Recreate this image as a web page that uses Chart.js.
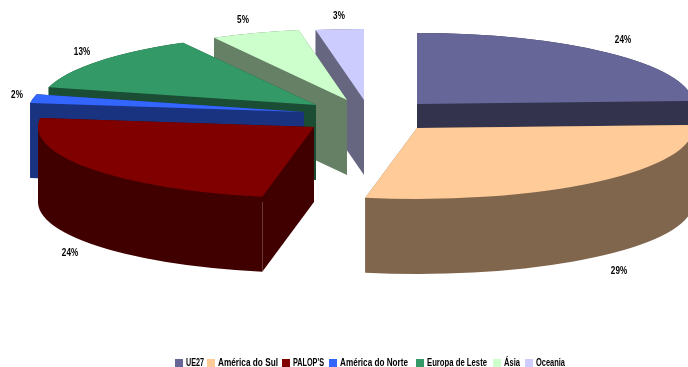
<!DOCTYPE html>
<html>
<head>
<meta charset="utf-8">
<style>
  html, body { margin: 0; padding: 0; background: #fff; }
  canvas { display: block; }
</style>
<script src="https://cdn.jsdelivr.net/npm/chart.js@4/dist/chart.umd.js"></script>
</head>
<body>
<canvas id="pieChart" width="688" height="367"></canvas>
<script>
const categories = ["UE27", "América do Sul", "PALOP'S", "América do Norte", "Europa de Leste", "Ásia", "Oceania"];
const shares = [24.3, 28.7, 24, 2, 13, 5.2, 2.8];
const topColors = ["#666699", "#FFCC99", "#800000", "#3366FF", "#339966", "#CCFFCC", "#CCCCFF"];
const sideColors = ["#33334D", "#80664D", "#400000", "#1A3380", "#1A4D33", "#668066", "#666680"];

// 3D look: every slice is squashed, pulled out and extruded
const RX = 276;
const RY = 71;
const DEPTH = 75;
const sliceCenters = [[417, 104], [417, 128], [314, 127], [304, 112], [316, 105], [347, 100], [364, 100]];
const labelSpots = [[623, 40], [619, 271], [70, 253], [17, 95], [82, 52], [243, 20], [339, 16]];
const legendBoxX = [175, 207, 282, 329, 416, 493, 525];
const legendTextW = [18, 60, 31, 68, 60, 16, 29];
const drawOrder = [0, 1, 6, 5, 4, 3, 2];

// no condensed bold font installed, so the text gets squeezed
const TEXT_FONT = "bold 11px 'Liberation Sans', sans-serif";
const SQUEEZE = 0.74;

function drawSides(ctx, arc, cx, cy, color) {
  const a0 = arc.startAngle;
  const a1 = arc.endAngle;
  ctx.fillStyle = color;
  // outer wall
  ctx.beginPath();
  ctx.ellipse(cx, cy, RX, RY, 0, a0, a1);
  ctx.ellipse(cx, cy + DEPTH, RX, RY, 0, a1, a0, true);
  ctx.closePath();
  ctx.fill();
  // the two cut faces, plus the silhouette where the rim turns round
  const sweep = [a0, a1].concat([0, Math.PI].filter((e) => e > a0 && e < a1));
  sweep.forEach((a) => {
    const x = cx + RX * Math.cos(a);
    const y = cy + RY * Math.sin(a);
    ctx.beginPath();
    ctx.moveTo(cx, cy);
    ctx.lineTo(x, y);
    ctx.lineTo(x, y + DEPTH);
    ctx.lineTo(cx, cy + DEPTH);
    ctx.closePath();
    ctx.fill();
  });
}

const pie3d = {
  id: "pie3d",
  beforeDatasetDraw(chart, args) {
    const ctx = chart.ctx;
    const arcs = args.meta.data;
    drawOrder.forEach((i) => {
      const arc = arcs[i];
      const [cx, cy] = sliceCenters[i];
      drawSides(ctx, arc, cx, cy, sideColors[i]);
      ctx.save();
      ctx.translate(cx, cy);
      ctx.scale(RX / arc.outerRadius, RY / arc.outerRadius);
      ctx.translate(-arc.x, -arc.y);
      arc.draw(ctx);
      ctx.restore();
    });
    return false;
  },
  afterDatasetsDraw(chart) {
    const ctx = chart.ctx;
    ctx.save();
    ctx.font = TEXT_FONT;
    ctx.fillStyle = "#000";
    ctx.textBaseline = "middle";
    // slice labels
    ctx.textAlign = "center";
    shares.forEach((v, i) => {
      const text = Math.round(v) + "%";
      ctx.fillText(text, labelSpots[i][0], labelSpots[i][1], ctx.measureText(text).width * SQUEEZE);
    });
    // legend along the bottom edge
    ctx.textAlign = "left";
    categories.forEach((name, i) => {
      ctx.fillStyle = topColors[i];
      ctx.fillRect(legendBoxX[i], 359, 8, 8);
      ctx.fillStyle = "#000";
      ctx.fillText(name, legendBoxX[i] + 11, 363, legendTextW[i]);
    });
    ctx.restore();
  },
};

const pieChart = new Chart(document.getElementById("pieChart").getContext("2d"), {
  type: "pie",
  data: {
    labels: categories,
    datasets: [
      {
        data: shares,
        backgroundColor: topColors,
        borderWidth: 0,
      },
    ],
  },
  options: {
    responsive: false,
    animation: false,
    events: [],
    plugins: {
      tooltip: { enabled: false },
      legend: { display: false },
    },
  },
  plugins: [pie3d],
});
</script>
</body>
</html>
